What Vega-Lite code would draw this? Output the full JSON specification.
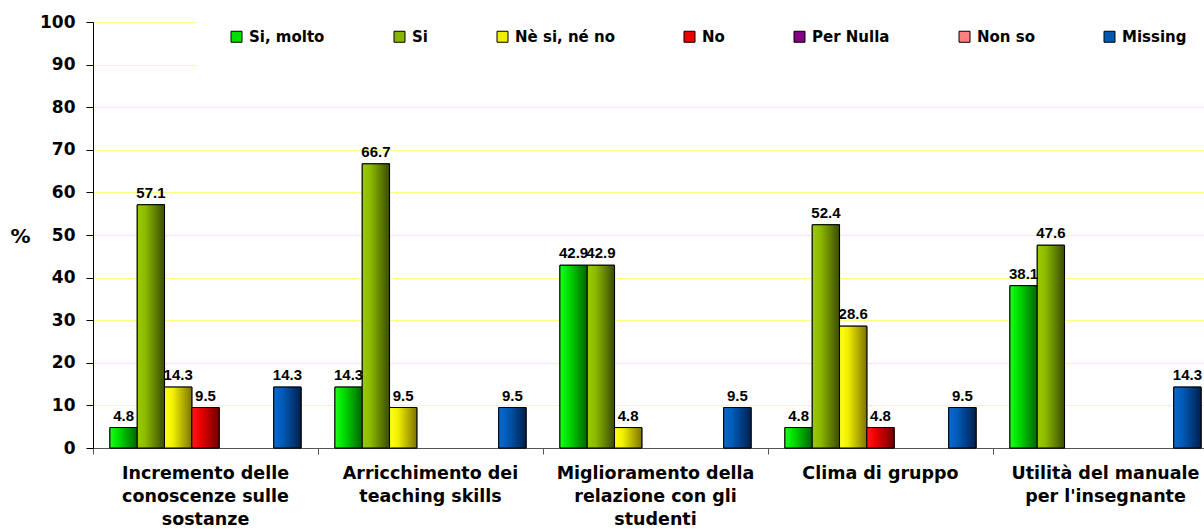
{
  "$schema": "https://vega.github.io/schema/vega-lite/v6.json",
  "width": 1111,
  "height": 426,
  "autosize": {"type": "none"},
  "padding": {"left": 93, "top": 22, "right": 0, "bottom": 81},
  "background": "white",
  "config": {"view": {"stroke": null}, "font": "DejaVu Sans"},
  "data": {
    "values": [
      {"area": "Incremento delle|conoscenze sulle|sostanze", "risposta": "Si, molto", "pct": 4.8},
      {"area": "Incremento delle|conoscenze sulle|sostanze", "risposta": "Si", "pct": 57.1},
      {"area": "Incremento delle|conoscenze sulle|sostanze", "risposta": "Nè si, né no", "pct": 14.3},
      {"area": "Incremento delle|conoscenze sulle|sostanze", "risposta": "No", "pct": 9.5},
      {"area": "Incremento delle|conoscenze sulle|sostanze", "risposta": "Missing", "pct": 14.3},
      {"area": "Arricchimento dei|teaching skills", "risposta": "Si, molto", "pct": 14.3},
      {"area": "Arricchimento dei|teaching skills", "risposta": "Si", "pct": 66.7},
      {"area": "Arricchimento dei|teaching skills", "risposta": "Nè si, né no", "pct": 9.5},
      {"area": "Arricchimento dei|teaching skills", "risposta": "Missing", "pct": 9.5},
      {"area": "Miglioramento della|relazione con gli|studenti", "risposta": "Si, molto", "pct": 42.9},
      {"area": "Miglioramento della|relazione con gli|studenti", "risposta": "Si", "pct": 42.9},
      {"area": "Miglioramento della|relazione con gli|studenti", "risposta": "Nè si, né no", "pct": 4.8},
      {"area": "Miglioramento della|relazione con gli|studenti", "risposta": "Missing", "pct": 9.5},
      {"area": "Clima di gruppo", "risposta": "Si, molto", "pct": 4.8},
      {"area": "Clima di gruppo", "risposta": "Si", "pct": 52.4},
      {"area": "Clima di gruppo", "risposta": "Nè si, né no", "pct": 28.6},
      {"area": "Clima di gruppo", "risposta": "No", "pct": 4.8},
      {"area": "Clima di gruppo", "risposta": "Missing", "pct": 9.5},
      {"area": "Utilità del manuale|per l'insegnante", "risposta": "Si, molto", "pct": 38.1},
      {"area": "Utilità del manuale|per l'insegnante", "risposta": "Si", "pct": 47.6},
      {"area": "Utilità del manuale|per l'insegnante", "risposta": "Missing", "pct": 14.3}
    ]
  },
  "encoding": {
    "x": {
      "field": "area", "type": "nominal", "sort": null,
      "scale": {
        "domain": ["Incremento delle|conoscenze sulle|sostanze", "Arricchimento dei|teaching skills", "Miglioramento della|relazione con gli|studenti", "Clima di gruppo", "Utilità del manuale|per l'insegnante"],
        "range": [0, 1125], "paddingInner": 0, "paddingOuter": 0
      },
      "axis": {
        "title": null, "bandPosition": 0, "labelAngle": 0,
        "labelExpr": "split(datum.value, '|')",
        "labelFont": "DejaVu Sans", "labelFontWeight": "bold", "labelFontSize": 17.5, "labelColor": "black",
        "labelLineHeight": 23, "labelPadding": 10, "labelBaseline": "top", "labelLimit": 400,
        "tickSize": 6, "tickColor": "#555555", "domainColor": "#555555", "grid": false
      }
    },
    "xOffset": {
      "field": "risposta", "type": "nominal",
      "scale": {"domain": ["Si, molto", "Si", "Nè si, né no", "No", "Per Nulla", "Non so", "Missing"], "paddingInner": 0, "paddingOuter": 0.62}
    },
    "y": {
      "field": "pct", "type": "quantitative",
      "scale": {"domain": [0, 100], "nice": false},
      "axis": {
        "title": "%", "titleAngle": 0, "titleX": -73, "titleY": 214, "titleAlign": "center", "titleBaseline": "middle",
        "titleFont": "DejaVu Sans", "titleFontWeight": "bold", "titleFontSize": 20, "titleColor": "black",
        "values": [0, 10, 20, 30, 40, 50, 60, 70, 80, 90, 100],
        "labelFont": "DejaVu Sans", "labelFontWeight": "bold", "labelFontSize": 17, "labelColor": "black", "labelPadding": 11,
        "tickSize": 7, "tickColor": "black", "domainColor": "black",
        "grid": true, "gridColor": "#FFFF80", "gridWidth": 1
      }
    }
  },
  "layer": [
    {
      "mark": {"type": "bar", "stroke": "black", "strokeWidth": 1},
      "encoding": {
        "color": {
          "field": "risposta", "type": "nominal",
          "scale": {
            "domain": ["Si, molto", "Si", "Nè si, né no", "No", "Per Nulla", "Non so", "Missing"],
            "range": ["#00e000", "#88b400", "#eeee00", "#ee0000", "#800080", "#ff8080", "#0058b0"]
          },
          "legend": {
            "title": null, "orient": "none", "direction": "horizontal", "legendX": 102, "legendY": -27,
            "fillColor": "white", "padding": 34, "columnPadding": 67,
            "symbolType": "square", "symbolSize": 121, "symbolStrokeColor": "black", "symbolStrokeWidth": 1, "symbolOpacity": 1,
            "labelFont": "DejaVu Sans", "labelFontWeight": "bold", "labelFontSize": 15, "labelColor": "black", "labelOffset": 5,
            "labelLimit": 300
          }
        }
      }
    },
    {
      "mark": {"type": "bar", "stroke": "black", "strokeWidth": 1},
      "encoding": {
        "fill": {
          "condition": [
            {"test": "datum.risposta === 'Si, molto'", "value": {"gradient": "linear", "x1": 0, "y1": 0, "x2": 1, "y2": 0, "stops": [{"offset": 0, "color": "#1aff1a"}, {"offset": 0.3, "color": "#00e000"}, {"offset": 1, "color": "#006400"}]}},
            {"test": "datum.risposta === 'Si'", "value": {"gradient": "linear", "x1": 0, "y1": 0, "x2": 1, "y2": 0, "stops": [{"offset": 0, "color": "#99cc00"}, {"offset": 0.3, "color": "#8cba00"}, {"offset": 1, "color": "#3a4a00"}]}},
            {"test": "datum.risposta === 'Nè si, né no'", "value": {"gradient": "linear", "x1": 0, "y1": 0, "x2": 1, "y2": 0, "stops": [{"offset": 0, "color": "#ffff1a"}, {"offset": 0.3, "color": "#f2f000"}, {"offset": 1, "color": "#7d7400"}]}},
            {"test": "datum.risposta === 'No'", "value": {"gradient": "linear", "x1": 0, "y1": 0, "x2": 1, "y2": 0, "stops": [{"offset": 0, "color": "#ff1a1a"}, {"offset": 0.3, "color": "#f00000"}, {"offset": 1, "color": "#6e0000"}]}},
            {"test": "datum.risposta === 'Per Nulla'", "value": {"gradient": "linear", "x1": 0, "y1": 0, "x2": 1, "y2": 0, "stops": [{"offset": 0, "color": "#990099"}, {"offset": 1, "color": "#400040"}]}},
            {"test": "datum.risposta === 'Non so'", "value": {"gradient": "linear", "x1": 0, "y1": 0, "x2": 1, "y2": 0, "stops": [{"offset": 0, "color": "#ff9999"}, {"offset": 1, "color": "#c05a5a"}]}}
          ],
          "value": {"gradient": "linear", "x1": 0, "y1": 0, "x2": 1, "y2": 0, "stops": [{"offset": 0, "color": "#0a6ad0"}, {"offset": 0.3, "color": "#005cbb"}, {"offset": 1, "color": "#001f4d"}]}
        }
      }
    },
    {
      "mark": {"type": "text", "baseline": "alphabetic", "dy": -7, "font": "Liberation Sans", "fontWeight": "bold", "fontSize": 15, "color": "black"},
      "encoding": {
        "text": {"field": "pct", "type": "quantitative", "format": ".1f"}
      }
    }
  ]
}
